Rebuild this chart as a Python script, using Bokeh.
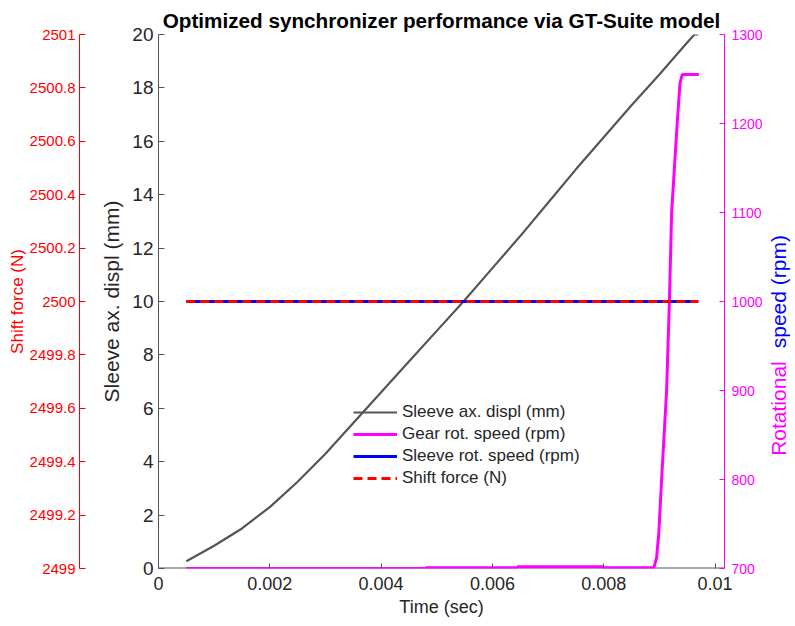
import math
from bokeh.plotting import figure
from bokeh.layouts import row
from bokeh.models import (Range1d, LinearAxis, FixedTicker, Label, Legend, LegendItem, Span)
from bokeh.embed import file_html
from bokeh.resources import INLINE

# ---------------- data ----------------
disp_t = [0.0005, 0.001, 0.0015, 0.002, 0.0025, 0.003, 0.0035, 0.004, 0.0045, 0.005,
          0.0055, 0.006, 0.0065, 0.007, 0.0075, 0.008, 0.0085, 0.009, 0.0095, 0.00963, 0.0097]
disp_mm = [0.27, 0.85, 1.5, 2.3, 3.25, 4.3, 5.45, 6.6, 7.75, 8.9,
           10.05, 11.25, 12.45, 13.7, 14.95, 16.15, 17.35, 18.5, 19.7, 20.0, 20.0]

gear_t = [0.0005, 0.0048, 0.0048, 0.00645, 0.00645, 0.008, 0.008, 0.0089, 0.00895, 0.00899,
          0.00904, 0.00913, 0.00918, 0.00922, 0.00932, 0.00937, 0.00941, 0.00971]
gear_rpm = [700, 700, 700.8, 700.8, 702, 702, 700.8, 700.8, 712, 740,
            800, 900, 1000, 1100, 1200, 1245, 1255, 1255]

sleeve_t = [0.0005, 0.0097]
sleeve_rpm = [1000, 1000]

force_t = [0.0005, 0.0097]
force_n = [2500, 2500]

x_ticks = [0, 0.002, 0.004, 0.006, 0.008, 0.01]
x_labels = ["0", "0.002", "0.004", "0.006", "0.008", "0.01"]
disp_ticks = [0, 2, 4, 6, 8, 10, 12, 14, 16, 18, 20]
force_ticks = [2499, 2499.2, 2499.4, 2499.6, 2499.8, 2500, 2500.2, 2500.4, 2500.6, 2500.8, 2501]
force_labels = ["2499", "2499.2", "2499.4", "2499.6", "2499.8", "2500",
                "2500.2", "2500.4", "2500.6", "2500.8", "2501"]
speed_ticks = [700, 800, 900, 1000, 1100, 1200, 1300]

FONT = "Liberation Sans"
DARK = "#262626"
AXC = "#555555"
RED = "#ff0000"
MAG = "#ff00ff"
BLUE = "#0000ff"

W_MAIN = 765
W_SIDE = 30
H = 626

p = figure(width=W_MAIN, height=H, output_backend="svg", toolbar_location=None,
           x_range=Range1d(0, 0.01017), y_range=Range1d(0, 20),
           min_border_left=158, min_border_right=39, min_border_top=34, min_border_bottom=58)
p.extra_y_ranges = {"force": Range1d(2499, 2501), "speed": Range1d(700, 1300),
                    "spacer": Range1d(0, 1)}
p.grid.visible = False
p.outline_line_color = None
p.background_fill_color = "white"
p.border_fill_color = "white"

p.title.text = "Optimized synchronizer performance via GT-Suite model"
p.title.align = "center"
p.title.text_font = FONT
p.title.text_font_style = "bold"
p.title.text_font_size = "20.7px"
p.title.text_color = "#000000"
p.title.standoff = 6

# x axis (line drawn underneath the data as a span)
xa = p.xaxis[0]
xa.ticker = FixedTicker(ticks=x_ticks)
xa.major_label_overrides = {t: l for t, l in zip(x_ticks, x_labels)}
xa.axis_label = "Time (sec)"
xa.axis_label_text_font = FONT
xa.axis_label_text_font_style = "normal"
xa.axis_label_text_font_size = "18px"
xa.axis_label_text_color = DARK
xa.axis_label_standoff = 4
xa.major_label_text_font = FONT
xa.major_label_text_font_size = "18px"
xa.major_label_text_color = DARK
xa.major_label_standoff = 8
xa.axis_line_color = None
xa.major_tick_line_color = AXC
xa.major_tick_in = 5
xa.major_tick_out = 0
xa.minor_tick_line_color = None
base = Span(location=0, dimension="width", line_color=AXC, line_width=2, level="underlay")
p.add_layout(base)

# main left axis
ya = p.yaxis[0]
ya.ticker = FixedTicker(ticks=disp_ticks)
ya.axis_label = "Sleeve ax. displ (mm)"
ya.axis_label_text_font = FONT
ya.axis_label_text_font_style = "normal"
ya.axis_label_text_font_size = "21px"
ya.axis_label_text_color = DARK
ya.axis_label_standoff = 6
ya.major_label_text_font = FONT
ya.major_label_text_font_size = "19px"
ya.major_label_text_color = DARK
ya.major_label_standoff = 5
ya.axis_line_color = AXC
ya.major_tick_line_color = AXC
ya.major_tick_in = 6
ya.major_tick_out = 0
ya.minor_tick_line_color = None

# spacer axis (gap between main and force axes)
sp = LinearAxis(y_range_name="spacer", ticker=FixedTicker(ticks=[0.5]),
                axis_line_color=None, major_tick_out=15, major_tick_in=0,
                major_tick_line_color="white", minor_tick_line_color=None,
                major_label_text_font_size="1px", major_label_standoff=0,
                major_label_text_color="white")
sp.major_label_overrides = {0.5: " "}
p.add_layout(sp, "left")

# force axis (red, far left)
fa = LinearAxis(y_range_name="force", ticker=FixedTicker(ticks=force_ticks))
fa.major_label_overrides = {t: l for t, l in zip(force_ticks, force_labels)}
fa.axis_label = "Shift force (N)"
fa.axis_label_text_font = FONT
fa.axis_label_text_font_style = "normal"
fa.axis_label_text_font_size = "17px"
fa.axis_label_text_color = RED
fa.axis_label_standoff = 0
fa.major_label_text_font = FONT
fa.major_label_text_font_size = "15px"
fa.major_label_text_color = RED
fa.major_label_standoff = 4
fa.axis_line_color = RED
fa.major_tick_line_color = RED
fa.major_tick_in = 6
fa.major_tick_out = 0
fa.minor_tick_line_color = None
p.add_layout(fa, "left")

# speed axis (right, magenta)
ra = LinearAxis(y_range_name="speed", ticker=FixedTicker(ticks=speed_ticks))
ra.major_label_text_font = FONT
ra.major_label_text_font_size = "14px"
ra.major_label_text_color = MAG
ra.major_label_standoff = 7
ra.axis_line_color = MAG
ra.major_tick_line_color = MAG
ra.major_tick_in = 5
ra.major_tick_out = 0
ra.minor_tick_line_color = None
p.add_layout(ra, "right")

# series
r1 = p.line(disp_t, disp_mm, line_color="#555555", line_width=2.2)
r2 = p.line(gear_t, gear_rpm, y_range_name="speed", line_color=MAG, line_width=3)
r3 = p.line(sleeve_t, sleeve_rpm, y_range_name="speed", line_color=BLUE, line_width=3)
r4 = p.line(force_t, force_n, y_range_name="force", line_color=RED, line_width=3,
            line_dash="9 5")

legend = Legend(items=[
    LegendItem(label="Sleeve ax. displ (mm)", renderers=[r1]),
    LegendItem(label="Gear rot. speed (rpm)", renderers=[r2]),
    LegendItem(label="Sleeve rot. speed (rpm)", renderers=[r3]),
    LegendItem(label="Shift force (N)", renderers=[r4]),
], location=(195, 79))
legend.background_fill_alpha = 0
legend.border_line_color = None
legend.label_text_font = FONT
legend.label_text_font_size = "17px"
legend.label_text_color = DARK
legend.glyph_width = 44
legend.glyph_height = 22
legend.label_height = 22
legend.label_standoff = 5
legend.spacing = 0
legend.padding = 0
legend.margin = 0
p.add_layout(legend, "center")

# side strip holding the two-colour right axis title
p2 = figure(width=W_SIDE, height=H, output_backend="svg", toolbar_location=None,
            x_range=Range1d(0, W_SIDE), y_range=Range1d(0, H),
            x_axis_location=None, y_axis_location=None, title=None,
            min_border=0, min_border_left=0, min_border_right=0,
            min_border_top=0, min_border_bottom=0)
p2.grid.visible = False
p2.outline_line_color = None
p2.background_fill_color = "white"
p2.border_fill_color = "white"
lab1 = Label(x=12.5, y=H - 438.5, text="Rotational",
             angle=math.pi / 2, text_align="center", text_baseline="middle",
             text_font=FONT, text_font_size="21px", text_color=MAG)
lab2 = Label(x=12.5, y=H - 301.5, text="speed (rpm)",
             angle=math.pi / 2, text_align="center", text_baseline="middle",
             text_font=FONT, text_font_size="21px", text_color=BLUE)
p2.add_layout(lab1)
p2.add_layout(lab2)

layout = row(p, p2, spacing=0)
open("out.html", "w").write(file_html(layout, INLINE))
